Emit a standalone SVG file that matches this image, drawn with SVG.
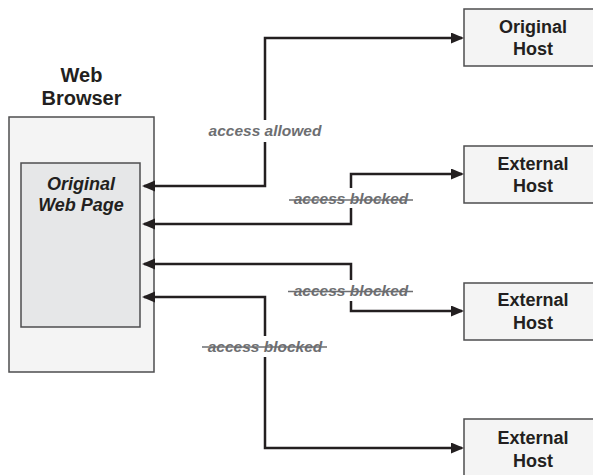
<svg xmlns="http://www.w3.org/2000/svg" width="593" height="475" viewBox="0 0 593 475">
<style>
.box{stroke:#4d4d4f;stroke-width:1.5}
.outer{fill:#f4f4f4}
.inner{fill:#e6e7e8}
.title{font-family:"Liberation Sans",Arial,sans-serif;font-weight:bold;fill:#231f20;text-anchor:middle}
.conn{fill:none;stroke:#231f20;stroke-width:2.5;marker-start:url(#ah);marker-end:url(#ah)}
.lbl{font-family:"Liberation Sans",Arial,sans-serif;font-weight:bold;font-style:italic;font-size:15.5px;fill:#6d6e71;text-anchor:middle}
.strike{stroke:#6d6e71;stroke-width:1.5}
.bg{fill:#ffffff}
</style>
<defs>
<marker id="ah" markerUnits="userSpaceOnUse" markerWidth="14" markerHeight="12" refX="11" refY="5.5" orient="auto-start-reverse">
<path d="M0,0 L13,5.5 L0,11 z" fill="#231f20"/>
</marker>
</defs>
<rect width="593" height="475" fill="#ffffff"/>
<g id="web-browser">
<text class="title" font-size="20" x="81.5" y="82">Web</text>
<text class="title" font-size="20" x="81.5" y="105">Browser</text>
<rect class="box outer" x="9" y="117" width="145" height="255"/>
</g>
<g id="original-web-page">
<rect class="box inner" x="21" y="163" width="119" height="164"/>
<text class="title" font-size="18" font-style="italic" x="81" y="190">Original</text>
<text class="title" font-size="18" font-style="italic" x="81" y="211">Web Page</text>
</g>
<g id="original-host">
<rect class="box outer" x="464" y="9" width="140" height="57"/>
<text class="title" font-size="18" x="533" y="33">Original</text>
<text class="title" font-size="18" x="533" y="55">Host</text>
</g>
<g id="external-host-1">
<rect class="box outer" x="464" y="146" width="140" height="57"/>
<text class="title" font-size="18" x="533" y="170">External</text>
<text class="title" font-size="18" x="533" y="192">Host</text>
</g>
<g id="external-host-2">
<rect class="box outer" x="464" y="283" width="140" height="57"/>
<text class="title" font-size="18" x="533" y="306">External</text>
<text class="title" font-size="18" x="533" y="329">Host</text>
</g>
<g id="external-host-3">
<rect class="box outer" x="464" y="419" width="140" height="70"/>
<text class="title" font-size="18" x="533" y="444">External</text>
<text class="title" font-size="18" x="533" y="467">Host</text>
</g>
<g id="connectors">
<path class="conn" d="M144,186 H265 V38 H462"/>
<path class="conn" d="M144,224 H351 V174 H462"/>
<path class="conn" d="M144,264 H351 V311 H462"/>
<path class="conn" d="M144,297 H265 V448 H462"/>
</g>
<g id="label-allowed">
<rect class="bg" x="204" y="120" width="122" height="22"/>
<text class="lbl" x="265" y="136">access allowed</text>
</g>
<g id="label-blocked-1">
<rect class="bg" x="287" y="188" width="128" height="20"/>
<text class="lbl" x="351" y="204">access blocked</text>
<line class="strike" x1="289" y1="200" x2="413" y2="200"/>
</g>
<g id="label-blocked-2">
<rect class="bg" x="287" y="280" width="128" height="21"/>
<text class="lbl" x="351" y="296">access blocked</text>
<line class="strike" x1="288" y1="291.5" x2="413" y2="291.5"/>
</g>
<g id="label-blocked-3">
<rect class="bg" x="200" y="336" width="129" height="21"/>
<text class="lbl" x="265" y="352">access blocked</text>
<line class="strike" x1="202" y1="347" x2="327" y2="347"/>
</g>
</svg>
